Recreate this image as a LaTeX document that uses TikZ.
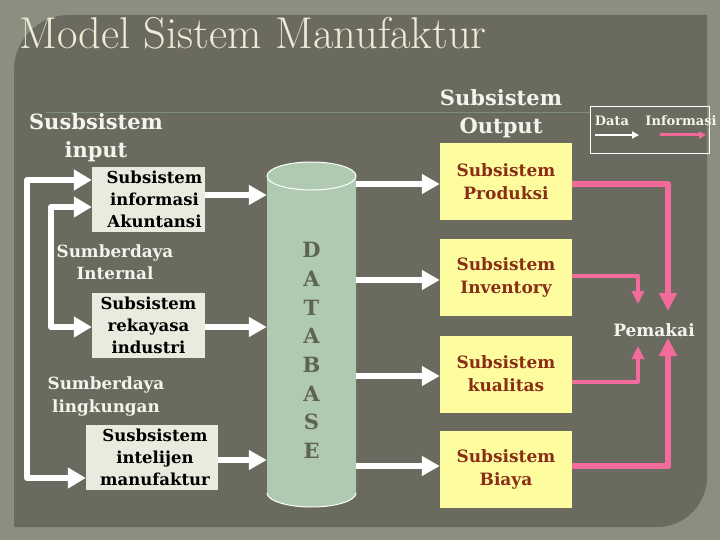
\documentclass[tikz,border=0pt]{standalone}
\usepackage{fontspec}
\newfontfamily\slabb{DejaVu Serif}
\usetikzlibrary{arrows.meta,calc}
\definecolor{framec}{HTML}{8C8E7F}
\definecolor{panelc}{HTML}{6A6A5E}
\definecolor{titlec}{HTML}{EEEBD6}
\definecolor{boxlc}{HTML}{EBEADF}
\definecolor{boxyc}{HTML}{FDFDA0}
\definecolor{brownc}{HTML}{8A2E17}
\definecolor{cylc}{HTML}{AFCAB0}
\definecolor{dbtextc}{HTML}{5E6354}
\definecolor{pinkc}{HTML}{F36A9C}
\definecolor{rulec}{HTML}{7F8E7B}
\definecolor{labc}{HTML}{F4F4EC}
\tikzset{
  lbox/.style={fill=boxlc, inner sep=0pt, minimum height=65pt, align=center, text=black,
    font=\slabb\bfseries\fontsize{16.5}{22}\selectfont},
  ybox/.style={fill=boxyc, inner sep=0pt, minimum width=132pt, minimum height=77pt, align=center, text=brownc,
    font=\slabb\bfseries\fontsize{17}{23}\selectfont},
  whead/.style={align=center, text=labc, font=\slabb\bfseries\fontsize{21}{28}\selectfont},
  wlab/.style={align=center, text=labc, font=\slabb\bfseries\fontsize{16.8}{22.5}\selectfont},
  dbl/.style={text=dbtextc, inner sep=0pt, font=\slabb\bfseries\fontsize{21}{21}\selectfont},
  warr/.style={draw=white, line width=6pt, line join=round, -{Triangle[length=18pt,width=19pt]}},
  wboth/.style={draw=white, line width=6pt, line join=round, {Triangle[length=18pt,width=20pt]}-{Triangle[length=18pt,width=20pt]}},
  pbig/.style={draw=pinkc, line width=6pt, line join=round, -{Triangle[length=18pt,width=17pt]}},
  psmall/.style={draw=pinkc, line width=4pt, line join=round, -{Triangle[length=13pt,width=12pt]}},
}
\begin{document}
\begin{tikzpicture}[x=1pt,y=-1pt]
\useasboundingbox (0,0) rectangle (720,540);
% background
\fill[framec] (0,0) rectangle (720,540);
\fill[panelc] (14,527) -- (14,70) arc[start angle=180,end angle=270,radius=55]
  -- (707,15) -- (707,477) arc[start angle=0,end angle=90,radius=50] -- cycle;
% title
\node[anchor=base west, inner sep=0pt, text=titlec, font=\fontsize{44.5}{44.5}\selectfont] (title) at (19,49) {Model Sistem Manufaktur};
% thin rule
\coordinate (r1) at (46,113);
\coordinate (r2) at (590,113);
\draw[rulec, line width=1pt] (r1) -- (r2);
% headings
\node[whead] (hin) at (96,138) {Susbsistem\\input};
\node[whead] (hout) at (501,114) {Subsistem\\Output};
% legend
\node[draw=white, line width=1pt, minimum width=119pt, minimum height=47pt, inner sep=0pt] (legend) at (649.5,130.5) {};
\node[text=labc, inner sep=0pt, font=\slabb\bfseries\fontsize{13}{13}\selectfont] (ldata) at (612,121) {Data};
\node[text=labc, inner sep=0pt, font=\slabb\bfseries\fontsize{13}{13}\selectfont] (linfo) at (681,121) {Informasi};
\coordinate (la1) at (595,135); \coordinate (la2) at (639,135);
\coordinate (lb1) at (660,135); \coordinate (lb2) at (706,135);
\draw[draw=white, line width=2.5pt, -{Triangle[length=7pt,width=7pt]}] (la1) -- (la2);
\draw[draw=pinkc, line width=3pt, -{Triangle[length=7pt,width=7pt]}] (lb1) -- (lb2);
% left boxes
\node[lbox, minimum width=113pt] (b1) at (148.5,199.5) {\hspace*{12pt}Subsistem\\\hspace*{12pt}informasi\\\hspace*{12pt}Akuntansi};
\node[lbox, minimum width=113pt] (b2) at (148.5,325.5) {Subsistem\\rekayasa\\industri};
\node[lbox, minimum width=132pt] (b3) at (152,457.5) {\hspace*{6pt}Susbsistem\\\hspace*{6pt}intelijen\\\hspace*{6pt}manufaktur};
\node[wlab] (sint) at (115,262) {Sumberdaya\\Internal};
\node[wlab] (sling) at (106,396.5) {Sumberdaya\\lingkungan};
% cylinder
\fill[cylc] (267,176) -- (267,493) arc[start angle=180,end angle=0,x radius=44.5,y radius=14] -- (356,176) -- cycle;
\draw[white, line width=1pt] (267,493) arc[start angle=180,end angle=0,x radius=44.5,y radius=14];
\draw[white, line width=1pt, fill=cylc] (311.5,176) ellipse[x radius=44.5,y radius=14];
\node[inner sep=0pt, minimum width=89pt, minimum height=317pt] (db) at (311.5,334.5) {};
\foreach \l [count=\i] in {D,A,T,A,B,A,S,E}
  \node[dbl] (dbL\i) at (311.5,250+28.7*\i-28.7) {\l};
% right boxes
\node[ybox] (p1) at (506,181.5) {Subsistem\\Produksi};
\node[ybox] (p2) at (506,277.5) {Subsistem\\Inventory};
\node[ybox] (p3) at (506,374) {Subsistem\\kualitas};
\node[ybox] (p4) at (506,469.5) {Subsistem\\Biaya};
\node[text=labc, inner sep=0pt, font=\slabb\bfseries\fontsize{17}{17}\selectfont] (pem) at (654,330) {Pemakai};
% left loops
\coordinate (o1) at (27,180); \coordinate (o2) at (27,478);
\draw[wboth] ([yshift=19.5pt]b1.west) -- (o1) -- (o2) -- ([yshift=-20.5pt]b3.west);
\coordinate (i1) at (51,207); \coordinate (i2) at (51,327);
\draw[wboth] ([yshift=-7.5pt]b1.west) -- (i1) -- (i2) -- ([yshift=-1.5pt]b2.west);
% to database
\draw[warr] ([yshift=4.5pt]b1.east) -- ([yshift=4.5pt]b1.east -| db.west);
\draw[warr] ([yshift=-1.5pt]b2.east) -- ([yshift=-1.5pt]b2.east -| db.west);
\draw[warr] ([yshift=-2.5pt]b3.east) -- ([yshift=-2.5pt]b3.east -| db.west);
% from database
\draw[warr] ([yshift=-2.5pt]p1.west -| db.east) -- ([yshift=-2.5pt]p1.west);
\draw[warr] ([yshift=-2.5pt]p2.west -| db.east) -- ([yshift=-2.5pt]p2.west);
\draw[warr] ([yshift=-2pt]p3.west -| db.east) -- ([yshift=-2pt]p3.west);
\draw[warr] ([yshift=3.5pt]p4.west -| db.east) -- ([yshift=3.5pt]p4.west);
% to Pemakai
\coordinate (t1) at (668,311); \coordinate (t2) at (638,304);
\coordinate (t3) at (638,346); \coordinate (t4) at (668,338);
\draw[pbig] ([yshift=-2.5pt]p1.east) -| (t1);
\draw[psmall] ([yshift=1.5pt]p2.east) -| (t2);
\draw[psmall] ([yshift=-8pt]p3.east) -| (t3);
\draw[pbig] ([yshift=3.5pt]p4.east) -| (t4);
\end{tikzpicture}
\end{document}
